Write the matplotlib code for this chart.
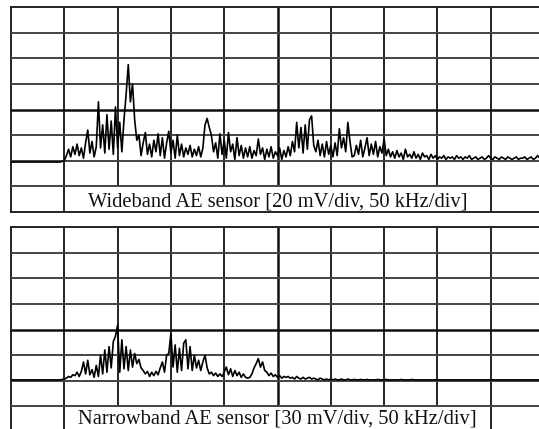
import numpy as np
import matplotlib
matplotlib.use("Agg")
import matplotlib.pyplot as plt
from matplotlib.patches import Rectangle

# frequency axis (kHz), one sample every 2 kHz, 0..500 kHz
freq_khz = np.arange(0, 502, 2)

# Wideband AE sensor amplitude (mV), 20 mV/div
wideband_mv = [
    -41, -41, -41, -41, -41, -41, -41, -41, -41, -41,
    -41, -41, -41, -41, -41, -41, -41, -41, -41, -41,
    -41, -41, -41, -41, -40.5, -40, -36, -31, -37, -29,
    -35, -27, -36, -30, -38, -26, -16, -34, -25, -37,
    -29, 6, -30, -12, -34, -4, -31, -9, -35, 2,
    -30, -10, -33, -8, 12, 35, 6, 20, -8, -24,
    -20, -36, -26, -18, -35, -27, -37, -24, -33, -19,
    -36, -22, -38, -26, -17, -34, -24, -38, -20, -36,
    -27, -37, -30, -35, -28, -37, -31, -36, -29, -37,
    -30, -12, -7, -14, -20, -33, -26, -38, -19, -35,
    -24, -38, -18, -33, -27, -39, -22, -36, -28, -38,
    -30, -37, -29, -38, -32, -36, -23, -35, -30, -39,
    -31, -37, -29, -38, -33, -36, -30, -39, -32, -37,
    -29, -36, -25, -33, -10, -30, -14, -34, -12, -31,
    -8, -5, -28, -33, -24, -36, -27, -37, -25, -35,
    -28, -37, -26, -36, -15, -30, -22, -33, -10, -25,
    -37, -36, -28, -35, -24, -37, -30, -22, -36, -27,
    -35, -25, -37, -29, -34, -23, -36, -31, -37, -33,
    -38, -32, -37, -34, -39, -31, -37, -35, -38, -33,
    -38, -35, -39, -34, -37, -36, -39, -35, -38, -36,
    -39, -37, -38, -36, -39, -37, -38, -37, -39, -36,
    -38, -37, -39, -37, -38, -36, -39, -38, -37, -39,
    -38, -37, -39, -38, -36, -38, -39, -37, -38, -39,
    -37, -38, -39, -37, -38, -39, -38, -37, -39, -38,
    -38, -37, -39, -38, -37, -39, -38, -36, -38, -39,
    -38,
]

# Narrowband AE sensor amplitude (mV), 30 mV/div
narrowband_mv = [
    -59, -59, -59, -59, -59, -59, -59, -59, -59, -59,
    -59, -59, -59, -59, -59, -59, -59, -59, -59, -59,
    -59, -59, -59, -59, -58.5, -58, -57, -55, -56, -53,
    -54, -50, -55, -49, -38, -52, -36, -53, -47, -56,
    -42, -55, -30, -52, -24, -50, -20, -45, -14, -8,
    5, -50, -12, -46, -20, -48, -24, -44, -28, -40,
    -35, -45, -48, -52, -49, -55, -50, -54, -49, -53,
    -45, -38, -50, -30, -28, -5, -44, -18, -50, -22,
    -48, -16, -12, -46, -20, -48, -30, -45, -36, -48,
    -38, -30, -45, -52, -50, -54, -51, -55, -52, -55,
    -50, -44, -53, -46, -55, -48, -54, -50, -56, -52,
    -56, -57, -56, -52, -45, -40, -34, -44, -38, -48,
    -50, -54, -51, -55, -53, -56, -54, -57, -55, -56,
    -55, -57, -56, -58, -55, -57, -58, -56, -58, -57,
    -56, -58, -57, -58, -59, -57, -58, -59, -58, -59,
    -58, -59, -58, -59, -59, -58, -59, -59, -58, -59,
    -59, -58.5, -59, -59, -58.5, -59, -59, -58.5, -59, -59,
    -59, -59, -58.5, -59, -59, -59, -58.5, -59, -59, -59,
    -59, -59, -59, -58.5, -59, -59, -59, -59, -58.5, -59,
    -59, -59, -59, -59, -59, -59, -59, -59, -59, -59,
    -59, -59, -59, -59, -59, -59, -59, -59, -59, -59,
    -59, -59, -59, -59, -59, -59, -59, -59, -59, -59,
    -59, -59, -59, -59, -59, -59, -59, -59, -59, -59,
    -59, -59, -59, -59, -59, -59, -59, -59, -59, -59,
    -59, -59, -59, -59, -59, -59, -59, -59, -59, -59,
    -59,
]

panel_labels = [
    "Wideband AE sensor [20 mV/div, 50 kHz/div]",
    "Narrowband AE sensor [30 mV/div, 50 kHz/div]",
]
mv_per_div = [20, 30]
khz_per_div = 50
n_xdiv, n_ydiv = 10, 8
label_baseline_div = [0.2, 0.33]

W, H = 539, 429
fig = plt.figure(figsize=(W / 100, H / 100), dpi=100)
fig.patch.set_facecolor("white")

ax_w = 533 / W
ax_h = 205 / H
axes = [
    fig.add_axes([11 / W, 1 - 212 / H, ax_w, ax_h]),
    fig.add_axes([11 / W, 1 - 432 / H, ax_w, ax_h]),
]

series = [wideband_mv, narrowband_mv]
fig.canvas.draw()
renderer = fig.canvas.get_renderer()

for ax, ys, label, mvd, lb in zip(axes, series, panel_labels, mv_per_div,
                                  label_baseline_div):
    ymax = mvd * n_ydiv / 2
    xmax = khz_per_div * n_xdiv
    ax.set_xlim(0, xmax)
    ax.set_ylim(-ymax, ymax)
    ax.set_xticks([])
    ax.set_yticks([])
    for s in ax.spines.values():
        s.set_color("#222222")
        s.set_linewidth(1.4)

    # vertical grid lines
    for i in range(1, n_xdiv):
        xv = i * khz_per_div
        center = (i == n_xdiv // 2)
        ax.axvline(xv, color="#111111" if center else "#262626",
                   lw=1.8 if center else 1.4, zorder=1)
    # horizontal grid lines (drawn above the label box)
    for j in range(1, n_ydiv):
        yv = -ymax + j * mvd
        center = (j == n_ydiv // 2)
        ax.axhline(yv, color="#111111" if center else "#444444",
                   lw=1.8 if center else 1.4, zorder=3)

    ax.plot(freq_khz, ys, color="black", lw=1.2, zorder=4)

    t = ax.text(xmax / 2, -ymax + lb * mvd, label, ha="center",
                va="baseline", fontsize=14.8, family="Liberation Serif",
                color="#111111", zorder=5)
    bb = t.get_window_extent(renderer=renderer)
    inv = ax.transData.inverted()
    (x0, _), (x1, _) = inv.transform([(bb.x0, bb.y0), (bb.x1, bb.y1)])
    pad = 6
    ax.add_patch(Rectangle((x0 - pad, -ymax), (x1 - x0) + 2 * pad, mvd,
                           facecolor="white", edgecolor="none", zorder=2))

fig.savefig("out.png", dpi=100, facecolor="white")
